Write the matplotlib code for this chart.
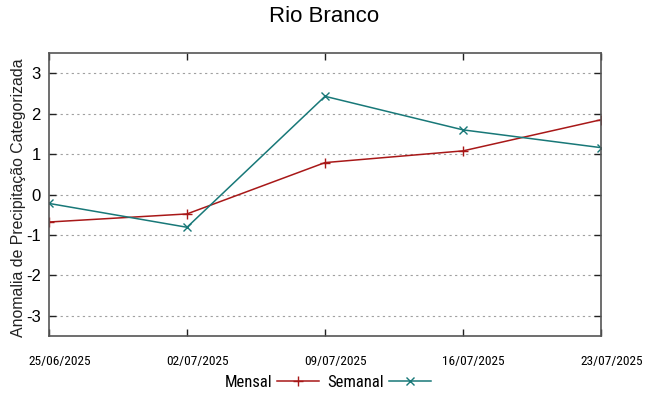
import pandas as pd
import matplotlib
matplotlib.use("Agg")
import matplotlib.pyplot as plt
import matplotlib.dates as mdates
import matplotlib.transforms as mtransforms
from matplotlib import font_manager

# data
datas = ["2025-06-25", "2025-07-02", "2025-07-09", "2025-07-16", "2025-07-23"]
mensal = [-0.68, -0.48, 0.79, 1.08, 1.85]
semanal = [-0.22, -0.81, 2.43, 1.60, 1.16]
yticks = [-3, -2, -1, 0, 1, 2, 3]

plt.rcParams['font.family'] = ['Liberation Sans', 'DejaVu Sans']
plt.rcParams['axes.unicode_minus'] = False  # plain hyphen like the original

# narrow font for the dates and the legend, if there is one
nomes = {f.name for f in font_manager.fontManager.ttflist}
estreita = None
for nome in ['Liberation Sans Narrow', 'DejaVu Sans Condensed', 'Roboto Condensed']:
    if nome in nomes:
        estreita = nome
        break
if estreita:
    fam_x, tam_x, tam_leg = [estreita, 'Liberation Sans'], 9.6, 12
else:
    fam_x, tam_x, tam_leg = ['Liberation Sans'], 8.5, 10

x = pd.to_datetime(datas)

fig = plt.figure(figsize=(6.49, 3.96), dpi=100)
ax = fig.add_axes([0.0755, 0.1515, 0.8505, 0.7145])

ax.plot(x, mensal, color='#a81818', marker='+', markersize=7, linewidth=1.1,
        label='Mensal')
ax.plot(x, semanal, color='#187878', marker='x', markersize=6, linewidth=1.1,
        label='Semanal')

ax.set_xlim(x[0], x[-1])
ax.set_ylim(-3.5, 3.5)
ax.set_xticks(x)
ax.xaxis.set_major_formatter(mdates.DateFormatter('%d/%m/%Y'))
ax.set_yticks(yticks)

ax.grid(axis='y', color='#a0a0a0', linestyle=(0, (2, 3)), linewidth=0.8)
ax.tick_params(direction='in', top=True, right=True, length=5, width=1,
               color='#222222')
ax.tick_params(axis='x', labelsize=tam_x, pad=14)
ax.tick_params(axis='y', labelsize=12, pad=6)
# gnuplot puts the dates a bit to the right of the tick
desloc = mtransforms.ScaledTranslation(-21 / 100, 0, fig.dpi_scale_trans)
for lab in ax.get_xticklabels():
    lab.set_family(fam_x)
    lab.set_horizontalalignment('left')
    lab.set_transform(lab.get_transform() + desloc)
for s in ax.spines.values():
    s.set_color('#555555')
    s.set_linewidth(1.2)

ax.set_ylabel('Anomalia de Precipitação Categorizada', fontsize=11.4,
              color='#222222')
ax.yaxis.set_label_coords(-0.042, 0.49)
fig.suptitle('Rio Branco', fontsize=16, y=0.985)

leg = fig.legend(loc='center', bbox_to_anchor=(0.505, 0.035), ncol=2,
                 frameon=False, markerfirst=False,
                 handlelength=2.5, columnspacing=0.5, handletextpad=0.3,
                 prop={'family': fam_x, 'size': tam_leg})

fig.savefig('out.png', dpi=100)
